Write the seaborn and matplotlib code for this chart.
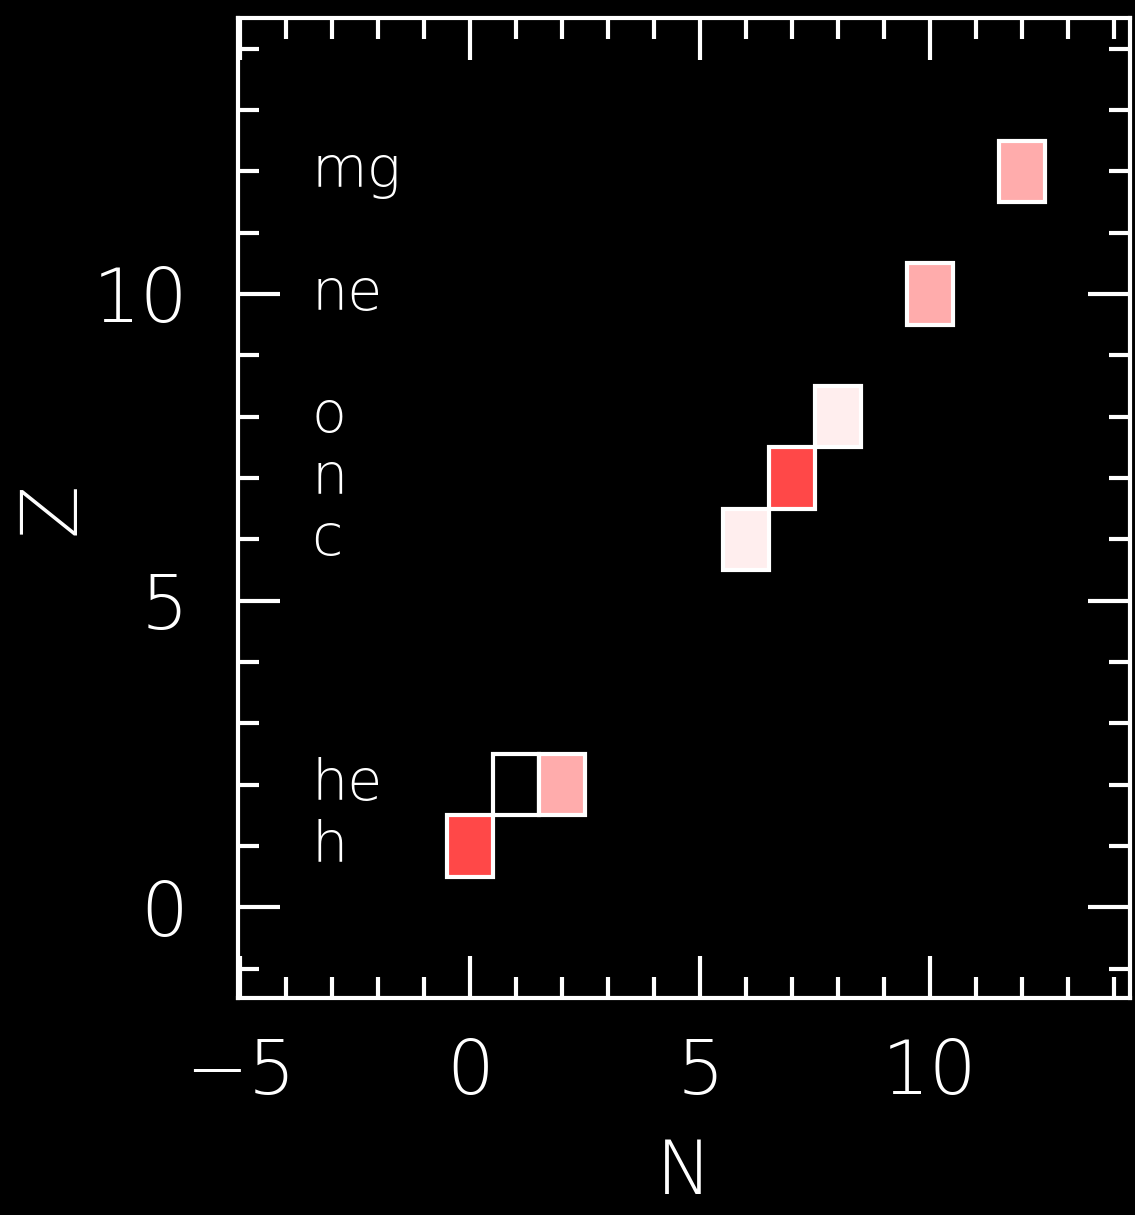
import matplotlib
matplotlib.use("Agg")
import matplotlib.pyplot as plt
import seaborn as sns
import numpy as np
from matplotlib.colors import LinearSegmentedColormap
from matplotlib.ticker import MultipleLocator

# Nuclides on the chart: neutron number N, proton number Z, relative level
cell_n = [0, 1, 2, 6, 7, 8, 10, 12]
cell_z = [1, 2, 2, 6, 7, 8, 10, 12]
cell_level = [1.0, 0.0, 0.45, 0.09, 1.0, 0.09, 0.45, 0.45]

# Element names written along the left side at their Z
element_names = ["h", "he", "c", "n", "o", "ne", "mg"]
element_z = [1, 2, 6, 7, 8, 10, 12]

x_ticks = [-5, 0, 5, 10]
y_ticks = [0, 5, 10]

sns.set_theme(style="dark", rc={
    "figure.facecolor": "black",
    "axes.facecolor": "black",
    "axes.edgecolor": "white",
    "text.color": "white",
    "axes.labelcolor": "white",
    "xtick.color": "white",
    "ytick.color": "white",
    "axes.grid": False,
})
plt.rcParams["font.family"] = ["DejaVu Sans"]

fig = plt.figure(figsize=(11.35, 12.15), dpi=100)
ax = fig.add_axes([0.2097, 0.1786, 0.7859, 0.8066])

cmap = LinearSegmentedColormap.from_list("wr", ["#ffffff", "#ff4848"])
fills = [cmap(v) if v > 0 else "black" for v in cell_level]

ax.bar(cell_n, 1.0, bottom=np.array(cell_z) - 0.5, width=1.0,
       color=fills, edgecolor="white", linewidth=3.0, zorder=3)

for name, z in zip(element_names, element_z):
    ax.text(-3.45, z, name, ha="left", va="center", fontsize=41,
            fontweight="light", color="white")

ax.set_xlim(-5.05, 14.35)
ax.set_ylim(-1.48, 14.5)
ax.set_xticks(x_ticks)
ax.set_yticks(y_ticks)
ax.xaxis.set_minor_locator(MultipleLocator(1))
ax.yaxis.set_minor_locator(MultipleLocator(1))
ax.tick_params(which="both", direction="in", top=True, right=True,
               bottom=True, left=True, colors="white")
ax.tick_params(which="major", length=30, width=3.0, labelsize=54)
ax.tick_params(axis="x", which="major", pad=28)
ax.tick_params(axis="y", which="major", pad=36)
ax.tick_params(which="minor", length=15, width=3.0)
for lab in ax.get_xticklabels() + ax.get_yticklabels():
    lab.set_fontweight("light")

for sp in ax.spines.values():
    sp.set_color("white")
    sp.set_linewidth(3.0)

ax.set_xlabel("N", fontsize=54, fontweight="light")
ax.set_ylabel("Z", fontsize=56, fontweight="light")
ax.xaxis.set_label_coords(0.5, -0.142)
ax.yaxis.set_label_coords(-0.165, 0.5)

fig.savefig("out.png", dpi=100, facecolor="black")
